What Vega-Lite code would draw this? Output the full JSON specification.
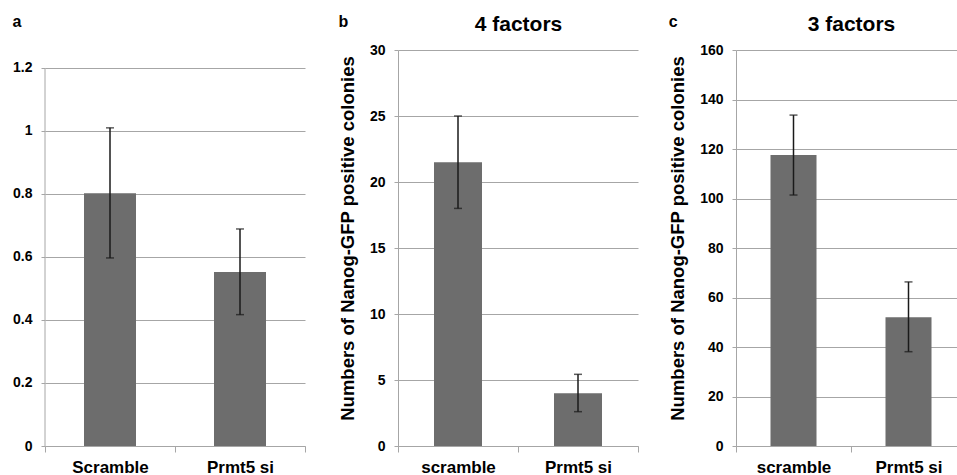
{
  "$schema": "https://vega.github.io/schema/vega-lite/v6.json",
  "padding": {"left": 12, "top": 13, "right": 0, "bottom": 0},
  "spacing": 93,
  "bounds": "flush",
  "config": {
    "font": "Liberation Sans",
    "view": {"stroke": null},
    "axis": {
      "labelFont": "Liberation Sans",
      "titleFont": "Liberation Sans",
      "labelFontWeight": "bold",
      "titleFontWeight": "bold",
      "labelColor": "#000000",
      "titleColor": "#000000",
      "domainColor": "#a6a6a6",
      "tickColor": "#a6a6a6",
      "gridColor": "#a6a6a6",
      "gridOpacity": 1
    },
    "title": {"font": "Liberation Sans", "fontWeight": "bold", "fontSize": 16, "color": "#000000", "anchor": "start", "frame": "bounds", "dy": 21}
  },
  "hconcat": [
    {
      "width": 260,
      "height": 396,
      "title": {"text": "a"},
      "data": {"values": [
        {"cond": "Scramble", "mean": 0.802, "lo": 0.597, "hi": 1.01},
        {"cond": "Prmt5 si", "mean": 0.552, "lo": 0.417, "hi": 0.689}
      ]},
      "resolve": {"axis": {"x": "independent"}},
      "layer": [
        {
          "mark": {"type": "bar", "width": {"band": 0.4}, "color": "#6d6d6d"},
          "encoding": {
            "x": {"field": "cond", "type": "nominal", "sort": null,
              "scale": {"domain": ["Scramble", "Prmt5 si"], "paddingInner": 0, "paddingOuter": 0},
              "axis": {"orient": "bottom", "title": null, "labelAngle": 0, "labelFontSize": 17, "labelPadding": 7, "tickBand": "extent", "ticks": true, "tickSize": 6, "domain": true, "grid": false}},
            "y": {"field": "mean", "type": "quantitative",
              "scale": {"domain": [0, 1.25714], "nice": false},
              "axis": {"title": null, "values": [0, 0.2, 0.4, 0.6, 0.8, 1, 1.2], "format": "~g", "grid": true, "domain": false, "tickSize": 4, "labelPadding": 9, "labelFontSize": 14}}
          }
        },
        {
          "data": {"values": [{"y0": 0, "y1": 1.2}]},
          "mark": {"type": "rule", "color": "#a6a6a6"},
          "encoding": {
            "x": {"datum": "Scramble", "type": "nominal", "bandPosition": 0, "axis": null},
            "y": {"field": "y0", "type": "quantitative"},
            "y2": {"field": "y1"}
          }
        },
        {
          "mark": {"type": "rule", "color": "#1a1a1a", "strokeWidth": 1.5},
          "encoding": {
            "x": {"field": "cond", "type": "nominal", "axis": null},
            "y": {"field": "lo", "type": "quantitative"},
            "y2": {"field": "hi"}
          }
        },
        {
          "mark": {"type": "tick", "color": "#1a1a1a", "thickness": 1.5, "size": 8},
          "encoding": {
            "x": {"field": "cond", "type": "nominal", "axis": {"orient": "top", "title": " ", "titleFontSize": 21, "titlePadding": 16, "labels": false, "ticks": false, "domain": false, "grid": false}},
            "y": {"field": "hi", "type": "quantitative"}
          }
        },
        {
          "mark": {"type": "tick", "color": "#1a1a1a", "thickness": 1.5, "size": 8},
          "encoding": {
            "x": {"field": "cond", "type": "nominal", "axis": null},
            "y": {"field": "lo", "type": "quantitative"}
          }
        }
      ]
    },
    {
      "width": 245,
      "height": 396,
      "title": {"text": "b"},
      "data": {"values": [
        {"cond": "scramble", "mean": 21.5, "lo": 18.0, "hi": 25.0},
        {"cond": "Prmt5 si", "mean": 4.0, "lo": 2.6, "hi": 5.43}
      ]},
      "resolve": {"axis": {"x": "independent"}},
      "layer": [
        {
          "mark": {"type": "bar", "width": {"band": 0.4}, "color": "#6d6d6d"},
          "encoding": {
            "x": {"field": "cond", "type": "nominal", "sort": null,
              "scale": {"domain": ["scramble", "Prmt5 si"], "range": [0, 240], "paddingInner": 0, "paddingOuter": 0},
              "axis": {"orient": "bottom", "title": null, "labelAngle": 0, "labelFontSize": 17, "labelPadding": 7, "tickBand": "extent", "ticks": true, "tickSize": 6, "domain": true, "grid": false}},
            "y": {"field": "mean", "type": "quantitative",
              "scale": {"domain": [0, 30], "nice": false},
              "axis": {"title": "Numbers of Nanog-GFP positive colonies", "titleFontSize": 18.5, "titlePadding": 12, "titleY": 188, "values": [0, 5, 10, 15, 20, 25, 30], "grid": true, "domain": true, "tickSize": 4, "labelPadding": 9, "labelFontSize": 14}}
          }
        },
        {
          "mark": {"type": "rule", "color": "#1a1a1a", "strokeWidth": 1.5},
          "encoding": {
            "x": {"field": "cond", "type": "nominal", "axis": null},
            "y": {"field": "lo", "type": "quantitative"},
            "y2": {"field": "hi"}
          }
        },
        {
          "mark": {"type": "tick", "color": "#1a1a1a", "thickness": 1.5, "size": 8},
          "encoding": {
            "x": {"field": "cond", "type": "nominal", "axis": {"orient": "top", "title": "4 factors", "titleFontSize": 21, "titlePadding": 16, "labels": false, "ticks": false, "domain": false, "grid": false}},
            "y": {"field": "hi", "type": "quantitative"}
          }
        },
        {
          "mark": {"type": "tick", "color": "#1a1a1a", "thickness": 1.5, "size": 8},
          "encoding": {
            "x": {"field": "cond", "type": "nominal", "axis": null},
            "y": {"field": "lo", "type": "quantitative"}
          }
        }
      ]
    },
    {
      "width": 221,
      "height": 396,
      "title": {"text": "c"},
      "data": {"values": [
        {"cond": "scramble", "mean": 117.6, "lo": 101.4, "hi": 133.7},
        {"cond": "Prmt5 si", "mean": 52.0, "lo": 38.1, "hi": 66.3}
      ]},
      "resolve": {"axis": {"x": "independent"}},
      "layer": [
        {
          "mark": {"type": "bar", "width": {"band": 0.4}, "color": "#6d6d6d"},
          "encoding": {
            "x": {"field": "cond", "type": "nominal", "sort": null,
              "scale": {"domain": ["scramble", "Prmt5 si"], "range": [0, 230], "paddingInner": 0, "paddingOuter": 0},
              "axis": {"orient": "bottom", "title": null, "labelAngle": 0, "labelFontSize": 17, "labelPadding": 7, "tickBand": "extent", "ticks": true, "tickSize": 6, "domain": true, "grid": false}},
            "y": {"field": "mean", "type": "quantitative",
              "scale": {"domain": [0, 160], "nice": false},
              "axis": {"title": "Numbers of Nanog-GFP positive colonies", "titleFontSize": 18.5, "titlePadding": 12, "titleY": 188, "values": [0, 20, 40, 60, 80, 100, 120, 140, 160], "grid": true, "domain": true, "tickSize": 4, "labelPadding": 9, "labelFontSize": 14}}
          }
        },
        {
          "mark": {"type": "rule", "color": "#1a1a1a", "strokeWidth": 1.5},
          "encoding": {
            "x": {"field": "cond", "type": "nominal", "axis": null},
            "y": {"field": "lo", "type": "quantitative"},
            "y2": {"field": "hi"}
          }
        },
        {
          "mark": {"type": "tick", "color": "#1a1a1a", "thickness": 1.5, "size": 8},
          "encoding": {
            "x": {"field": "cond", "type": "nominal", "axis": {"orient": "top", "title": "3 factors", "titleFontSize": 21, "titlePadding": 16, "labels": false, "ticks": false, "domain": false, "grid": false}},
            "y": {"field": "hi", "type": "quantitative"}
          }
        },
        {
          "mark": {"type": "tick", "color": "#1a1a1a", "thickness": 1.5, "size": 8},
          "encoding": {
            "x": {"field": "cond", "type": "nominal", "axis": null},
            "y": {"field": "lo", "type": "quantitative"}
          }
        }
      ]
    }
  ]
}
